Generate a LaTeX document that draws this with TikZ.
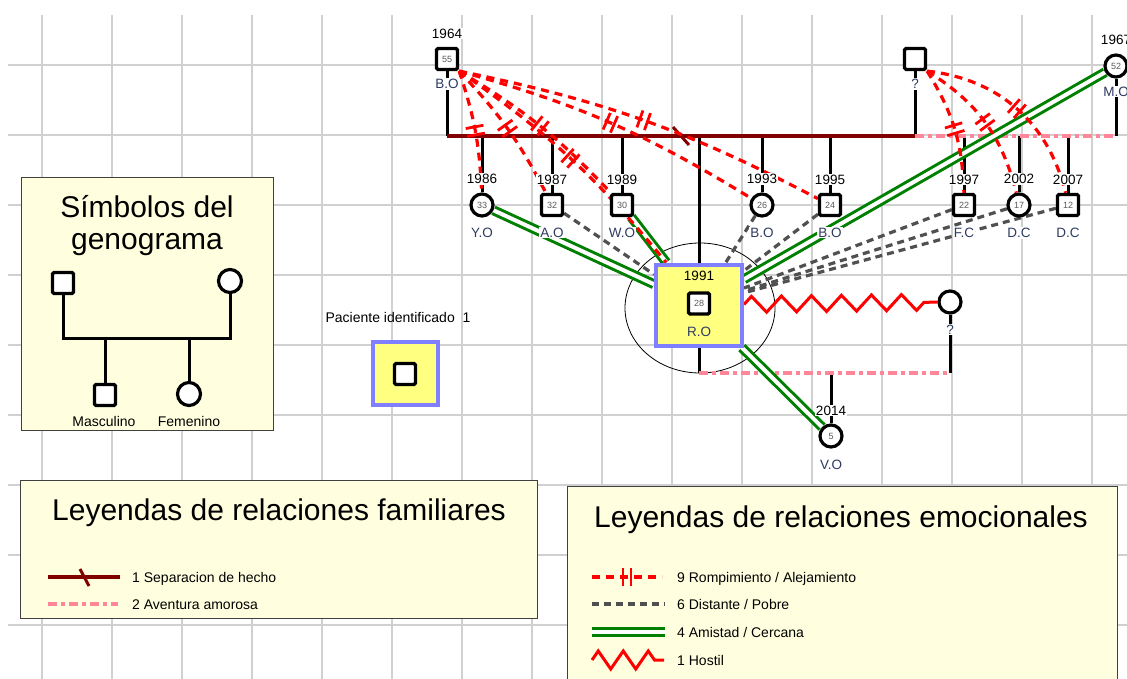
\documentclass[tikz,border=0pt]{standalone}
\usepackage{fontspec}
\setmainfont{Liberation Sans}
\usetikzlibrary{positioning,shapes.geometric,decorations.pathmorphing,decorations.markings}
\definecolor{sepred}{HTML}{800000}
\definecolor{affair}{HTML}{FF8599}
\definecolor{friend}{HTML}{008000}
\definecolor{distgray}{HTML}{505050}
\definecolor{legfill}{HTML}{FFFFE0}
\definecolor{ipfill}{HTML}{FFFF80}
\definecolor{ipblue}{HTML}{7F7FFF}
\definecolor{gridgray}{HTML}{D0D0D0}
\definecolor{nmblue}{HTML}{2E3A62}
\pgfdeclarelayer{grid}
\pgfdeclarelayer{links}
\pgfsetlayers{grid,links,main}
\newcommand{\fs}[1]{\fontsize{#1}{#1}\selectfont}
\tikzset{
  male/.style={ draw, line width=3.2pt, fill=white, rounded corners=1.5pt, minimum size=21pt, inner sep=0pt, font=\fs{9}, text=black!65 }
}
\tikzset{
  female/.style={ male, circle, minimum size=22pt }
}
\tikzset{
  ipbox/.style={ draw=ipblue, line width=4pt, fill=ipfill, minimum width=86pt, minimum height=81pt }
}
\tikzset{
  yr/.style={ fill=white, inner sep=1pt, font=\fs{13.5}, text=black, label distance=7.5pt }
}
\tikzset{
  nm/.style={ fill=white, inner sep=1pt, font=\fs{13.5}, text=nmblue, label distance=9.5pt }
}
\tikzset{
  legbox/.style={ draw=black!75, line width=1.2pt, fill=legfill, inner sep=0pt, anchor=north west }
}
\tikzset{
  ttl/.style={ font=\fs{30}, anchor=base, inner sep=0pt }
}
\tikzset{
  legt/.style={ font=\fs{14}, anchor=base west, inner sep=0pt }
}
\tikzset{
  famline/.style={ line width=3pt, black },
  sepline/.style={ line width=4pt, sepred },
  affairline/.style={ line width=3.5pt, affair, dash pattern=on 9pt off 4pt on 4pt off 4pt },
  rompe/.style={ line width=3.2pt, red, dash pattern=on 8pt off 6pt, postaction={decorate},
    decoration={markings, mark=at position 0.5 with {\draw[solid, line width=2.8pt, red] (-4,-9) -- (-4,9) (4,-9) -- (4,9);}} },
  distante/.style={ line width=3.2pt, distgray, dash pattern=on 7pt off 5pt },
  amistad/.style={ line width=3pt, friend, double=white, double distance=4pt },
  hostil/.style={ line width=3pt, red, decorate, decoration={zigzag, segment length=30pt, amplitude=8pt} }
}

\begin{document}
\begin{tikzpicture}[x=1pt, y=-1pt]
      \useasboundingbox (0,0) rectangle (1127,679);
      \begin{pgfonlayer}{grid}
        \fill[white] (0,0) rectangle (1127,679);
        \foreach \x in {42,112,...,1092} \draw[gridgray, line width=1.6pt] (\x,15) -- (\x,679);
        \foreach \y in {65,135,...,625} \draw[gridgray, line width=1.6pt] (8,\y) -- (1127,\y);
      \end{pgfonlayer}

      % legend of symbols
      \node[legbox, minimum width=252pt, minimum height=253pt] (symbox) at (21,177) {};
      \node[ttl] (symttl1) at (147,218) {Símbolos del};
      \node[ttl] (symttl2) at (147,249) {genograma};
      \node[male] (sm) at (63,283) {};
      \node[female, minimum size=23pt] (sf) at (230,281) {};
      \node[male] (sc1) at (105,395) {};
      \node[female, minimum size=23pt] (sc2) at (189,394) {};
      \coordinate (sl) at (63,338);
      \coordinate (sr) at (230,338);
      \draw[famline, line join=miter] (sm) -- (sl) -- (sr) -- (sf);
      \draw[famline] (sc1 |- sl) -- (sc1);
      \draw[famline] (sc2 |- sl) -- (sc2);
      \node[legt, anchor=base, font=\fs{14}] (masc) at (104,426) {Masculino};
      \node[legt, anchor=base, font=\fs{14}] (feme) at (189,426) {Femenino};

      % index person legend
      \node[legt, anchor=base] (pitxt) at (398,322) {Paciente identificado\ \ 1};
      \node[ipbox, minimum width=65pt, minimum height=63pt] (pibox) at (405.5,373.5) {};
      \node[male] (pisq) at (405,374) {};

      % genogram
      \node[male, label={[yr,name=bo-y]above:1964}, label={[nm,label distance=7pt,name=bo-n]below:B.O}] (bo) at (447,59) {55};
      \node[male, label={[nm,label distance=7pt,name=q-n]below:?}] (q) at (915,59) {};
      \node[female, label={[yr,name=mo-y]above:1967}, label={[nm,label distance=7pt,name=mo-n]below:M.O}] (mo) at (1116,66) {52};
      \node[female, label={[yr,name=yo-y]above:1986}, label={[nm,name=yo-n]below:Y.O}] (yo) at (482,205) {33};
      \node[male, label={[yr,name=ao-y]above:1987}, label={[nm,name=ao-n]below:A.O}] (ao) at (552,205) {32};
      \node[male, label={[yr,name=wo-y]above:1989}, label={[nm,name=wo-n]below:W.O}] (wo) at (622,205) {30};
      \node[female, label={[yr,name=bo26-y]above:1993}, label={[nm,name=bo26-n]below:B.O}] (bo26) at (762,205) {26};
      \node[male, label={[yr,name=bo24-y]above:1995}, label={[nm,name=bo24-n]below:B.O}] (bo24) at (830,205) {24};
      \node[male, label={[yr,name=fc-y]above:1997}, label={[nm,name=fc-n]below:F.C}] (fc) at (964,205) {22};
      \node[female, label={[yr,name=dc17-y]above:2002}, label={[nm,name=dc17-n]below:D.C}] (dc17) at (1019,205) {17};
      \node[male, label={[yr,name=dc12-y]above:2007}, label={[nm,name=dc12-n]below:D.C}] (dc12) at (1068,205) {12};
      \node[ipbox] (ro) at (699,305) {};
      \node[male] (rosq) at (699,303.5) {28};
      \node[font=\fs{13.5}, inner sep=1pt, above=9.5pt of rosq] (ro-y) {1991};
      \node[font=\fs{13.5}, inner sep=1pt, text=nmblue, below=10pt of rosq] (ro-n) {R.O};
      \node[female, label={[nm,label distance=9pt,name=pq-n]below:?}] (pq) at (950,302) {};
      \node[female, label={[yr,label distance=7pt,name=vo-y]above:2014}, label={[nm,label distance=10pt,name=vo-n]below:V.O}] (vo) at (831,436) {5};
      \coordinate (m1) at (447,136);
      \coordinate (m2) at (915,136);
      \coordinate (m3) at (1116,136);
      \coordinate (a1) at (699,373);
      \coordinate (a2) at (950,373);

      \begin{pgfonlayer}{links}
        \draw[line width=0.8pt] (700,308) ellipse [x radius=75, y radius=65];
        \draw[famline] (bo) -- (m1);
        \draw[famline] (q) -- (m2);
        \draw[famline] (mo) -- (m3);
        \foreach \c in {yo,ao,wo,bo26,bo24,ro} \draw[famline] (\c |- m1) -- (\c);
        \foreach \c in {fc,dc17,dc12} \draw[famline] (\c |- m2) -- (\c);
        \draw[sepline] (m1) -- (m2) coordinate[pos=0.5] (sep);
        \draw[sepline, line width=3pt] ([shift={(-8,-9)}]sep) -- ([shift={(8,9)}]sep);
        \draw[affairline] (m2) -- (m3);
        \draw[famline] (ro) -- (a1);
        \draw[famline] (pq) -- (a2);
        \draw[famline] (vo |- a1) -- (vo);
        \draw[affairline] (a1) -- (a2);
        \foreach \c in {ao,bo26,bo24,fc,dc17,dc12} \draw[distante] (\c) -- (ro);
        \draw[amistad] (yo) -- (ro);
        \draw[amistad] (wo) -- (ro);
        \draw[amistad] (ro) -- (mo);
        \draw[amistad] (ro) -- (vo);
        \foreach \c in {yo,ao,wo,ro,bo26,bo24} \draw[rompe] (bo.south east) to[bend left=8] (\c);
        \foreach \c/\b in {fc/15,dc17/22,dc12/35} \draw[rompe] (q.south east) to[bend left=\b] (\c);
        \draw[hostil] (ro) -- (pq);
      \end{pgfonlayer}

      % legend of family relations
      \node[legbox, minimum width=517pt, minimum height=138pt] (famleg) at (20,480) {};
      \node[ttl] (famttl) at (279,520) {Leyendas de relaciones familiares};
      \node[legt] (f1) at (132,582) {1 Separacion de hecho};
      \node[legt] (f2) at (132,609) {2 Aventura amorosa};
      \draw[sepline] (48,577) -- (120,577);
      \draw[sepline, line width=3pt] (80,569) -- (89,586);
      \draw[affairline] (48,604) -- (118,604);

      % legend of emotional relations
      \node[legbox, minimum width=550pt, minimum height=210pt] (emoleg) at (567,486) {};
      \node[ttl] (emottl) at (841,527) {Leyendas de relaciones emocionales};
      \node[legt] (e1) at (677,582) {9 Rompimiento / Alejamiento};
      \node[legt] (e2) at (677,609) {6 Distante / Pobre};
      \node[legt] (e3) at (677,637) {4 Amistad / Cercana};
      \node[legt] (e4) at (677,665) {1 Hostil};
      \draw[rompe] (592,577) -- (662,577);
      \draw[distante] (592,604) -- (665,604);
      \draw[amistad] (592,632) -- (665,632);
      \draw[hostil, decoration={zigzag, segment length=25pt, amplitude=9pt}] (592,660) -- (664,660);
    \end{tikzpicture}
\end{document}
